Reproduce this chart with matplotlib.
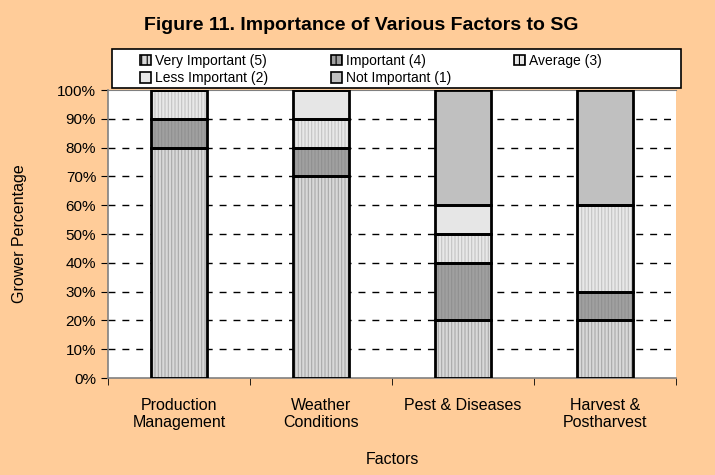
import matplotlib.pyplot as plt
import numpy as np

plt.rcParams['font.family'] = ['Liberation Sans', 'DejaVu Sans']
plt.rcParams['hatch.linewidth'] = 0.8

factors = ["Production\nManagement", "Weather\nConditions", "Pest & Diseases", "Harvest &\nPostharvest"]
series = ["Very Important (5)", "Important (4)", "Average (3)", "Less Important (2)", "Not Important (1)"]

very_important = [80, 70, 20, 20]
important = [10, 10, 20, 10]
average = [10, 10, 10, 30]
less_important = [0, 10, 10, 0]
not_important = [0, 0, 40, 40]

values = [very_important, important, average, less_important, not_important]
faces = ["#d8d8d8", "#a0a0a0", "#e8e8e8", "#e6e6e6", "#c0c0c0"]
hatch_cols = ["#a8a8a8", "#909090", "#c4c4c4", None, None]

fig = plt.figure(figsize=(7.15, 4.75), dpi=100)
fig.patch.set_facecolor("#ffcc99")
ax = fig.add_axes([0.151, 0.204, 0.7945, 0.6065])
ax.set_facecolor("white")

x = np.arange(len(factors))
bottom = np.zeros(len(factors))
handles = []
for name, vals, fc, hc in zip(series, values, faces, hatch_cols):
    vals = np.array(vals, dtype=float)
    if hc is not None:
        ax.bar(x, vals, 0.4, bottom=bottom, color=fc, edgecolor=hc, hatch="|||||", linewidth=0, zorder=2)
    else:
        ax.bar(x, vals, 0.4, bottom=bottom, color=fc, linewidth=0, zorder=2)
    ax.bar(x, vals, 0.4, bottom=bottom, fill=False, edgecolor="black", linewidth=2, zorder=3)
    h = plt.Rectangle((0, 0), 1, 1, facecolor=fc, edgecolor="black", linewidth=1.2,
                      hatch="|||" if hc else None)
    handles.append(h)
    bottom += vals

ax.set_xlim(-0.5, 3.5)
ax.set_ylim(0, 100)
ax.set_yticks(np.arange(0, 101, 10))
ax.set_yticklabels([f"{v}%" for v in range(0, 101, 10)], fontsize=11)
ax.set_xticks(x)
ax.set_xticklabels(factors, fontsize=11.5)
ax.set_xticks(np.arange(-0.5, 4, 1), minor=True)
ax.tick_params(axis="x", which="major", length=0, pad=14)
ax.tick_params(axis="x", which="minor", length=5, direction="out", color="black")
ax.tick_params(axis="y", length=5, direction="out", color="black")
for v in range(10, 100, 10):
    ax.axhline(v, color="black", linestyle=(0, (5, 5)), linewidth=1, zorder=1)
for s in ["left", "bottom"]:
    ax.spines[s].set_color("#808080")
    ax.spines[s].set_linewidth(1.2)
ax.spines["top"].set_color("#808080")
ax.spines["right"].set_visible(False)

ax.set_ylabel("Grower Percentage", fontsize=11.5, labelpad=22)
ax.set_xlabel("Factors", fontsize=11.5, labelpad=16)

fig.text(0.505, 0.947, "Figure 11. Importance of Various Factors to SG", ha="center", va="center",
         fontsize=14, fontweight="bold")

# legend frame drawn separately so the entries can sit at fixed columns
frame = plt.Rectangle((112 / 715, 1 - 88 / 475), 569 / 715, 39 / 475, transform=fig.transFigure,
                      facecolor="white", edgecolor="black", linewidth=1.2)
fig.patches.append(frame)

# reorder so the legend reads row by row like the original
order = [0, 3, 1, 4, 2]
leg = fig.legend([handles[i] for i in order], [series[i] for i in order], ncol=3, loc="upper left",
                 bbox_to_anchor=(140 / 715, 1 - 54 / 475), fontsize=10, frameon=False,
                 handlelength=0.8, handleheight=0.8, handletextpad=0.3, borderpad=0,
                 labelspacing=0.25, columnspacing=4.5, borderaxespad=0)

fig.savefig("out.png", dpi=100, facecolor=fig.get_facecolor())
